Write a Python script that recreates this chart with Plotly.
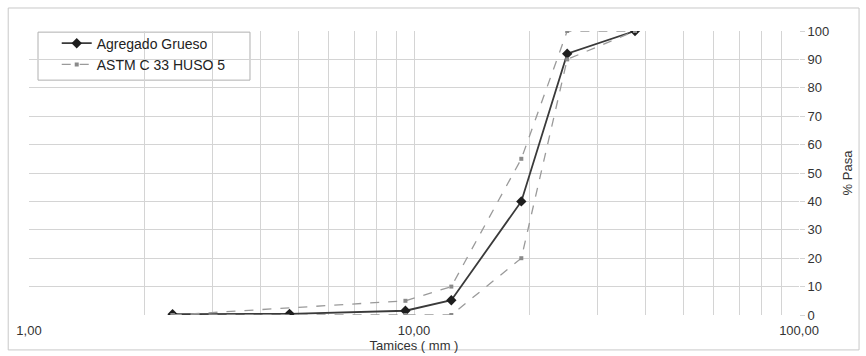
import plotly.graph_objects as go

# --- data ---
tamices_mm = [2.36, 4.75, 9.5, 12.5, 19.0, 25.0, 37.5]
agregado_grueso = [0.3, 0.4, 1.5, 5.2, 40.0, 92.0, 100.0]

astm_tamices = [2.36, 9.5, 12.5, 19.0, 25.0, 37.5]
astm_superior = [0, 5, 10, 55, 100, 100]
astm_inferior = [0, 0, 0, 20, 90, 100]

x_tickvals = [1, 10, 100]
x_ticktext = ["1,00", "10,00", "100,00"]
x_minor = [2, 3, 4, 5, 6, 7, 8, 9, 20, 30, 40, 50, 60, 70, 80, 90]
y_tickvals = [0, 10, 20, 30, 40, 50, 60, 70, 80, 90, 100]

FONT = "Liberation Sans, Arial, sans-serif"
GRID = "#d4d4d4"

fig = go.Figure()

fig.add_trace(go.Scatter(
    x=tamices_mm, y=agregado_grueso, name="Agregado Grueso",
    mode="lines+markers",
    line=dict(color="#3a3a3a", width=1.8),
    marker=dict(symbol="diamond", size=8, color="#1e1e1e"),
))
fig.add_trace(go.Scatter(
    x=astm_tamices, y=astm_superior, name="ASTM C 33 HUSO 5",
    legendgroup="astm", mode="lines+markers",
    line=dict(color="#9a9a9a", width=1.3, dash="dash"),
    marker=dict(symbol="square", size=4, color="#8a8a8a"),
))
fig.add_trace(go.Scatter(
    x=astm_tamices, y=astm_inferior, name="ASTM C 33 HUSO 5",
    legendgroup="astm", showlegend=False, mode="lines+markers",
    line=dict(color="#9a9a9a", width=1.3, dash="dash"),
    marker=dict(symbol="square", size=4, color="#8a8a8a"),
))

# outer chart frame
fig.add_shape(type="rect", xref="paper", yref="paper",
              x0=-0.027, x1=1.078, y0=-0.123, y1=1.081,
              line=dict(color="#c8c8c8", width=1), layer="below")
# legend box (white, covers the grid)
fig.add_shape(type="rect", xref="paper", yref="paper",
              x0=0.0117, x1=0.287, y0=0.827, y1=0.996,
              line=dict(color="#b0b0b0", width=1), fillcolor="white",
              layer="below")

fig.update_layout(
    width=866, height=356,
    margin=dict(l=29, r=67, t=31, b=41),
    paper_bgcolor="white", plot_bgcolor="white",
    font=dict(family=FONT, size=13, color="#333333"),
    showlegend=True,
    legend=dict(
        x=0.036, y=1.012, xanchor="left", yanchor="top",
        bgcolor="rgba(0,0,0,0)", borderwidth=0,
        font=dict(family=FONT, size=14, color="#222222"),
        tracegroupgap=0, itemwidth=30,
    ),
    xaxis=dict(
        type="log", range=[0, 2], automargin=False,
        tickvals=x_tickvals, ticktext=x_ticktext,
        showgrid=True, gridcolor=GRID, gridwidth=1,
        minor=dict(tickvals=x_minor, showgrid=True, gridcolor=GRID, gridwidth=1),
        showline=False, zeroline=False, ticks="",
        ticklabelstandoff=6,
        tickfont=dict(size=13, color="#333333"),
        title=dict(text="Tamices ( mm )", standoff=0,
                   font=dict(size=13, color="#333333")),
    ),
    yaxis=dict(
        side="right", range=[0, 100], automargin=False,
        tickvals=y_tickvals,
        showgrid=True, gridcolor=GRID, gridwidth=1,
        showline=False, zeroline=False,
        ticks="outside", ticklen=5, tickcolor=GRID,
        tickfont=dict(size=13, color="#333333"),
        title=dict(text="% Pasa", standoff=14,
                   font=dict(size=13, color="#333333")),
    ),
)

fig.write_html("out.html")
